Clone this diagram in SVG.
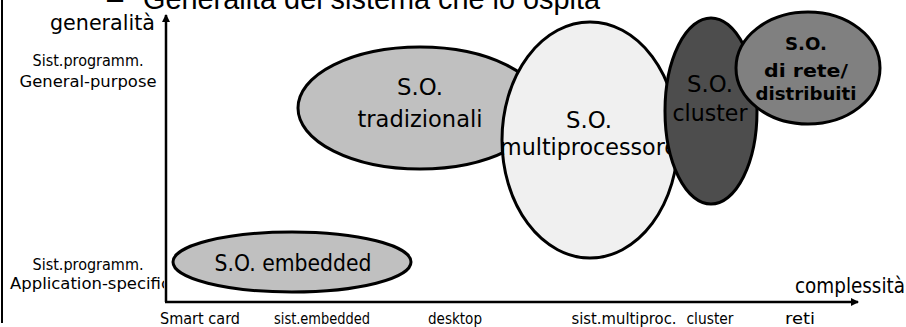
<svg xmlns="http://www.w3.org/2000/svg" width="906" height="327" viewBox="0 0 906 327">
<style>
text{font-family:"DejaVu Sans","Liberation Sans",sans-serif;fill:#000}
.lbl{font-size:16px;text-anchor:middle}
.big{font-size:21px}
.node ellipse{stroke:#000;stroke-width:3}
.nt{font-size:23px;text-anchor:middle}
.bt{font-size:18px;font-weight:bold;text-anchor:middle}
.axis{stroke:#000;stroke-width:2.5;fill:none}
.title{font-family:"Liberation Sans",Arial,sans-serif;font-size:29px}
</style>
<defs>
<marker id="ah" markerWidth="8" markerHeight="8" refX="7" refY="4" orient="auto" markerUnits="userSpaceOnUse">
<path d="M0,0 L8,4 L0,8 Z" fill="#000"/>
</marker>
<clipPath id="lc"><rect x="0" y="0" width="164" height="327"/></clipPath>
</defs>
<line x1="2" y1="0" x2="2" y2="323" stroke="#000" stroke-width="2"/>
<text class="title" x="107" y="9">–</text>
<text class="title" x="143" y="9" textLength="457" lengthAdjust="spacingAndGlyphs">Generalità del sistema che lo ospita</text>
<g id="connectors">
<line class="axis" x1="166" y1="302" x2="166" y2="15" marker-end="url(#ah)"/>
<line class="axis" x1="165" y1="302" x2="858" y2="302" marker-end="url(#ah)"/>
</g>
<text class="big" x="50" y="30" textLength="105" lengthAdjust="spacingAndGlyphs">generalità</text>
<text class="big" x="795" y="293" textLength="110" lengthAdjust="spacingAndGlyphs">complessità</text>
<text class="lbl" x="88" y="66" textLength="111" lengthAdjust="spacingAndGlyphs">Sist.programm.</text>
<text class="lbl" x="88" y="87" textLength="137" lengthAdjust="spacingAndGlyphs">General-purpose</text>
<g clip-path="url(#lc)">
<text class="lbl" x="88" y="270" textLength="111" lengthAdjust="spacingAndGlyphs">Sist.programm.</text>
<text class="lbl" x="10" y="289" style="text-anchor:start" textLength="160" lengthAdjust="spacingAndGlyphs">Application-specific</text>
</g>
<text class="lbl" x="200" y="324" textLength="80" lengthAdjust="spacingAndGlyphs">Smart card</text>
<text class="lbl" x="322" y="324" textLength="96" lengthAdjust="spacingAndGlyphs">sist.embedded</text>
<text class="lbl" x="455" y="324" textLength="54" lengthAdjust="spacingAndGlyphs">desktop</text>
<text class="lbl" x="624" y="324" textLength="105" lengthAdjust="spacingAndGlyphs">sist.multiproc.</text>
<text class="lbl" x="710" y="324" textLength="47" lengthAdjust="spacingAndGlyphs">cluster</text>
<text class="lbl" x="800" y="324" textLength="30" lengthAdjust="spacingAndGlyphs">reti</text>
<g id="embedded" class="node">
<ellipse cx="292" cy="262" rx="119" ry="30" fill="#c0c0c0"/>
<text class="nt" x="293" y="271" textLength="157" lengthAdjust="spacingAndGlyphs">S.O. embedded</text>
</g>
<g id="tradizionali" class="node">
<ellipse cx="420" cy="108" rx="122" ry="61" fill="#c0c0c0"/>
<text class="nt" x="420" y="95" textLength="46" lengthAdjust="spacingAndGlyphs">S.O.</text>
<text class="nt" x="420" y="127" textLength="125" lengthAdjust="spacingAndGlyphs">tradizionali</text>
</g>
<g id="multiprocessore" class="node">
<ellipse cx="590" cy="140" rx="88" ry="118" fill="#f0f0f0"/>
<text class="nt" x="589" y="128" textLength="46" lengthAdjust="spacingAndGlyphs">S.O.</text>
<text class="nt" x="589" y="155" textLength="178" lengthAdjust="spacingAndGlyphs">multiprocessore</text>
</g>
<g id="cluster" class="node">
<ellipse cx="711" cy="111" rx="46" ry="93" fill="#4d4d4d"/>
<text class="nt" x="710" y="92" textLength="46" lengthAdjust="spacingAndGlyphs">S.O.</text>
<text class="nt" x="710" y="121" textLength="75" lengthAdjust="spacingAndGlyphs">cluster</text>
</g>
<g id="distribuiti" class="node">
<ellipse cx="808" cy="68" rx="72" ry="56" fill="#808080"/>
<text class="bt" x="806" y="50" textLength="42" lengthAdjust="spacingAndGlyphs">S.O.</text>
<text class="bt" x="806" y="77" textLength="84" lengthAdjust="spacingAndGlyphs">di rete/</text>
<text class="bt" x="806" y="100" textLength="101" lengthAdjust="spacingAndGlyphs">distribuiti</text>
</g>
</svg>
